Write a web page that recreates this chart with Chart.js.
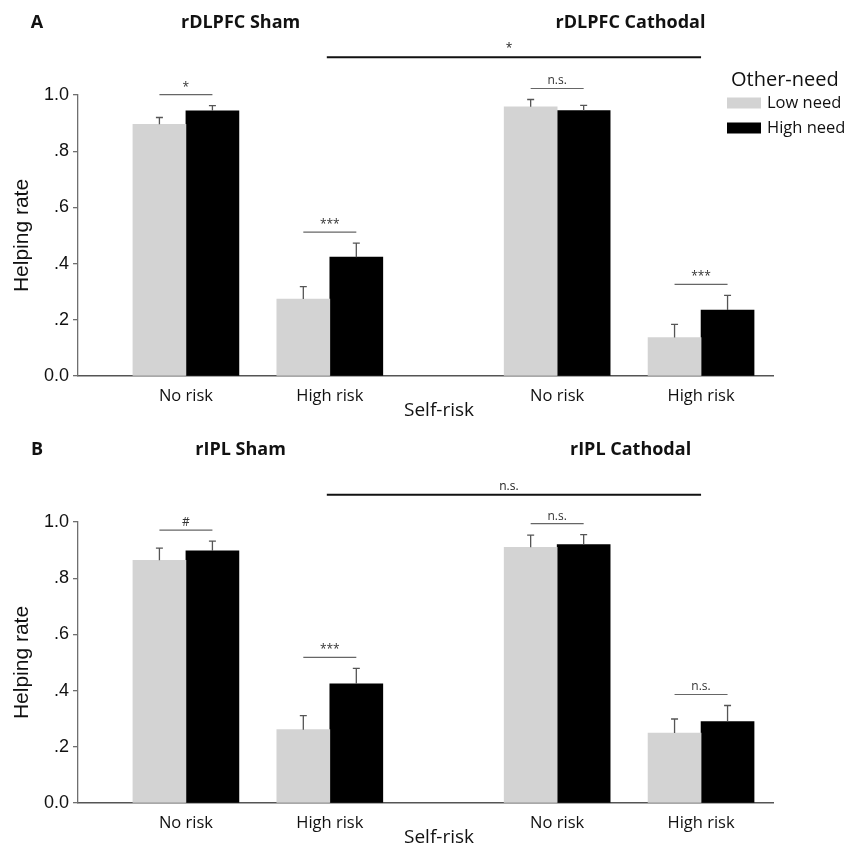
<!DOCTYPE html>
<html>
<head>
<meta charset="utf-8">
<script src="https://cdn.jsdelivr.net/npm/chart.js@4"></script>
<style>
    html, body { margin: 0; padding: 0; background: #fff; }
    .panel { position: absolute; left: 0; width: 846px; height: 420px; }
    #wrapA { top: 0; }
    #wrapB { top: 427px; }
</style>
</head>
<body>
<div class="panel" id="wrapA"><canvas id="panelA"></canvas></div>
<div class="panel" id="wrapB"><canvas id="panelB"></canvas></div>
<script>
// values (helping rate, upper SEM shown as error bar)
var riskLabels = ['No risk', 'High risk', 'No risk', 'High risk'];
var needLabels = ['Low need', 'High need'];
var yTickLabels = ['0.0', '.2', '.4', '.6', '.8', '1.0'];

var dlpfcLow = [0.896, 0.274, 0.958, 0.137];
var dlpfcHigh = [0.944, 0.423, 0.945, 0.235];
var dlpfcLowErr = [0.024, 0.044, 0.026, 0.047];
var dlpfcHighErr = [0.018, 0.050, 0.018, 0.052];
var dlpfcSig = ['*', '***', 'n.s.', '***'];
var dlpfcAcross = '*';

var iplLow = [0.864, 0.261, 0.910, 0.249];
var iplHigh = [0.897, 0.424, 0.920, 0.290];
var iplLowErr = [0.043, 0.050, 0.043, 0.050];
var iplHighErr = [0.035, 0.055, 0.035, 0.057];
var iplSig = ['#', '***', 'n.s.', 'n.s.'];
var iplAcross = 'n.s.';

(function () {
    var lowFill = '#d3d3d3';
    var highFill = '#000000';
    var ink = '#111111';
    var axisGray = '#6f6f6f';
    var sans = '"Open Sans", "Noto Sans", sans-serif';
    var arial = '"Liberation Sans", Arial, sans-serif';

    // Sham and Cathodal conditions sit further apart than the two risk levels
    var conditionGap = 1.58;
    function slot(i) { return i + (i >= 2 ? conditionGap - 1 : 0); }
    var slots = riskLabels.map(function (_, i) { return slot(i); });

    Chart.defaults.animation = false;
    Chart.defaults.font.family = sans;
    Chart.defaults.color = ink;

    var annotate = {
        id: 'annotate',
        afterDatasetsDraw: function (chart, args, o) {
            var ctx = chart.ctx;
            var xs = chart.scales.x, ys = chart.scales.y;
            var metas = [chart.getDatasetMeta(0), chart.getDatasetMeta(1)];
            var vals = [o.low, o.high], errs = [o.lowErr, o.highErr];
            ctx.save();

            // error bars, upward only
            ctx.strokeStyle = '#555';
            ctx.lineWidth = 1.3;
            metas.forEach(function (meta, d) {
                meta.data.forEach(function (bar, i) {
                    var top = ys.getPixelForValue(vals[d][i] + errs[d][i]);
                    ctx.beginPath();
                    ctx.moveTo(bar.x, bar.y);
                    ctx.lineTo(bar.x, top);
                    ctx.moveTo(bar.x - 3.5, top);
                    ctx.lineTo(bar.x + 3.5, top);
                    ctx.stroke();
                });
            });

            // low vs high need comparisons
            ctx.textAlign = 'center';
            ctx.textBaseline = 'alphabetic';
            ctx.font = '12px ' + sans;
            o.sig.forEach(function (txt, i) {
                var a = metas[0].data[i], b = metas[1].data[i];
                var top = Math.min(ys.getPixelForValue(vals[0][i] + errs[0][i]),
                                   ys.getPixelForValue(vals[1][i] + errs[1][i]));
                var ly = top - 11;
                ctx.strokeStyle = '#666';
                ctx.lineWidth = 1.2;
                ctx.beginPath();
                ctx.moveTo(a.x, ly);
                ctx.lineTo(b.x, ly);
                ctx.stroke();
                ctx.fillStyle = '#333';
                ctx.fillText(txt, (a.x + b.x) / 2, ly - 4);
            });

            // sham vs cathodal, high-risk condition
            var x1 = xs.getPixelForValue(slots[1]) - 3;
            var x2 = xs.getPixelForValue(slots[3]);
            var by = ys.getPixelForValue(o.acrossLevel);
            ctx.strokeStyle = '#111';
            ctx.lineWidth = 2;
            ctx.beginPath();
            ctx.moveTo(x1, by);
            ctx.lineTo(x2, by);
            ctx.stroke();
            ctx.fillStyle = '#222';
            ctx.fillText(o.across, (x1 + x2) / 2 - 5, by - 5);

            // panel letter and condition titles
            ctx.textBaseline = 'middle';
            ctx.fillStyle = ink;
            ctx.font = 'bold 18px ' + sans;
            ctx.fillText(o.letter, 37, 23);
            ctx.fillText(o.titles[0], xs.getPixelForValue(o.titleAt[0]), 23);
            ctx.fillText(o.titles[1], xs.getPixelForValue(o.titleAt[1]), 23);

            // x axis title
            ctx.font = '19px ' + sans;
            ctx.fillText('Self-risk', 439, 411);

            if (o.legend) {
                ctx.textAlign = 'left';
                ctx.font = '20px ' + sans;
                ctx.fillText('Other-need', 731, 80);
                ctx.font = '16.5px ' + sans;
                chart.data.datasets.forEach(function (ds, d) {
                    var cy = 103 + d * 25;
                    ctx.fillStyle = ds.backgroundColor;
                    ctx.fillRect(727, cy - 5.5, 34, 11);
                    ctx.fillStyle = ink;
                    ctx.fillText(ds.label, 767, cy);
                });
            }
            ctx.restore();
        }
    };

    function points(values) {
        return values.map(function (v, i) { return { x: slots[i], y: v }; });
    }

    function panel(id, o) {
        new Chart(document.getElementById(id), {
            type: 'bar',
            data: {
                datasets: [
                    { label: needLabels[0], data: points(o.low), backgroundColor: lowFill, borderWidth: 0, barThickness: 53 },
                    { label: needLabels[1], data: points(o.high), backgroundColor: highFill, borderWidth: 0, barThickness: 53 }
                ]
            },
            options: {
                responsive: true,
                maintainAspectRatio: false,
                layout: { padding: { top: 95, right: 73, left: 0, bottom: 0 } },
                plugins: { legend: { display: false }, tooltip: { enabled: false }, annotate: o },
                scales: {
                    x: {
                        type: 'linear',
                        min: -0.75,
                        max: 4.08,
                        offset: false,
                        grid: { display: false, offset: false },
                        border: { display: true, color: '#555', width: 1.5 },
                        afterBuildTicks: function (s) { s.ticks = slots.map(function (v) { return { value: v }; }); },
                        afterFit: function (s) { s.height = 44; },
                        ticks: {
                            autoSkip: false,
                            maxRotation: 0,
                            padding: 2,
                            font: { size: 16.5 },
                            color: ink,
                            callback: function (v, i) { return riskLabels[i]; }
                        }
                    },
                    y: {
                        min: 0,
                        max: 1,
                        grid: { drawOnChartArea: false, drawTicks: true, tickLength: 5, color: axisGray, lineWidth: 1.3 },
                        border: { display: true, color: axisGray, width: 1.3 },
                        afterFit: function (s) { s.width = 78; },
                        ticks: {
                            stepSize: 0.2,
                            padding: 4,
                            color: ink,
                            font: { family: arial, size: 18 },
                            callback: function (v, i) { return yTickLabels[i]; }
                        },
                        title: {
                            display: true,
                            text: 'Helping rate',
                            color: ink,
                            padding: { top: 10, bottom: 0 },
                            font: { family: arial, size: 21 }
                        }
                    }
                }
            },
            plugins: [annotate]
        });
    }

    panel('panelA', {
        letter: 'A', titles: ['rDLPFC Sham', 'rDLPFC Cathodal'], titleAt: [0.38, 3.09],
        low: dlpfcLow, high: dlpfcHigh, lowErr: dlpfcLowErr, highErr: dlpfcHighErr,
        sig: dlpfcSig, across: dlpfcAcross, acrossLevel: 1.134, legend: true
    });
    panel('panelB', {
        letter: 'B', titles: ['rIPL Sham', 'rIPL Cathodal'], titleAt: [0.38, 3.09],
        low: iplLow, high: iplHigh, lowErr: iplLowErr, highErr: iplHighErr,
        sig: iplSig, across: iplAcross, acrossLevel: 1.097, legend: false
    });
})();
</script>
</body>
</html>
